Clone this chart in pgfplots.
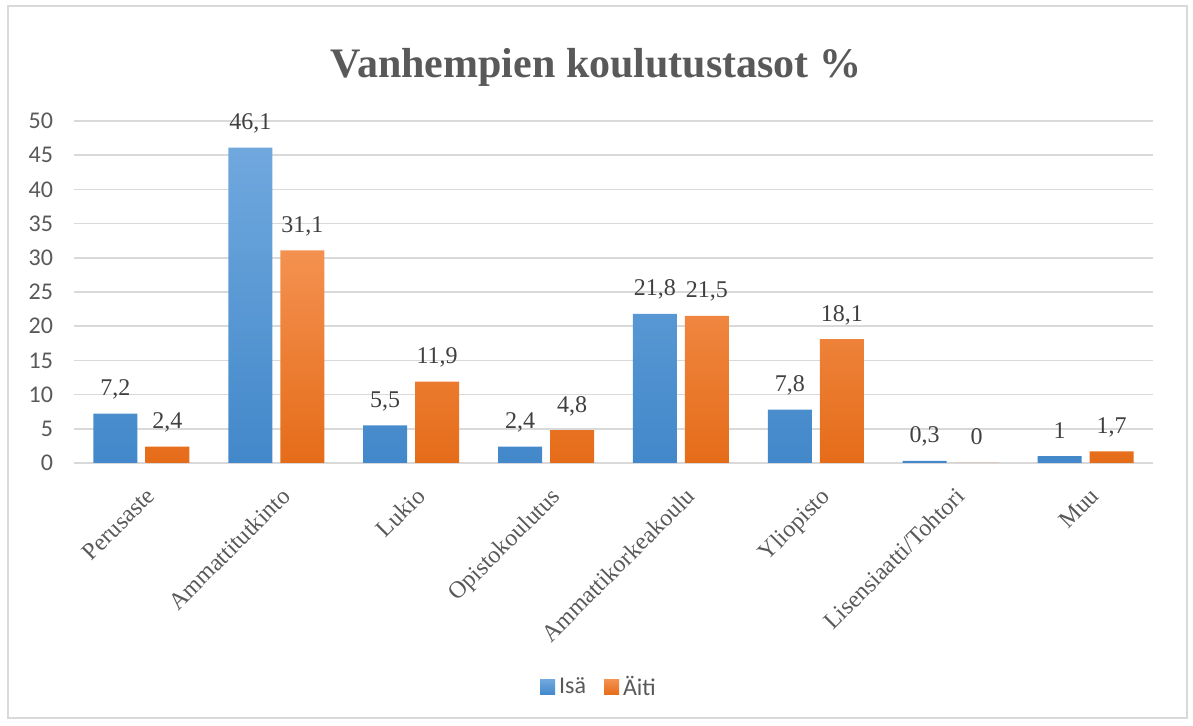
\documentclass[border=0pt]{standalone}
\usepackage{pgfplots}
\pgfplotsset{compat=1.18}
\usepackage{fontspec}
\setmainfont{Liberation Serif}
\newfontfamily\carlito{Carlito}
\definecolor{txtgray}{RGB}{89,89,89}
\definecolor{valgray}{RGB}{64,64,64}
\definecolor{gridgray}{RGB}{217,217,217}
\definecolor{bluetop}{RGB}{112,168,222}
\definecolor{bluebot}{RGB}{66,136,202}
\definecolor{orangetop}{RGB}{244,145,80}
\definecolor{orangebot}{RGB}{229,108,25}
\begin{document}
\begin{tikzpicture}
% canvas (1px = 0.5pt), origin at plot-area lower-left
\path (-37pt,-131.5pt) rectangle (559.5pt,231.5pt);
\draw[gridgray, line width=0.8pt] (-33pt,-127.5pt) rectangle (556.5pt,228.5pt);
\begin{axis}[
  at={(0,0)}, anchor=south west,
  scale only axis, width=539.5pt, height=171pt,
  xmin=-0.5, xmax=7.5, ymin=0, ymax=50,
  ybar=4pt, bar width=22pt,
  axis line style={draw=none},
  ymajorgrids, grid style={gridgray, line width=0.75pt},
  ytick={0,5,...,50},
  xtick={0,...,7},
  xticklabels={Perusaste,Ammattitutkinto,Lukio,Opistokoulutus,Ammattikorkeakoulu,Yliopisto,Lisensiaatti/Tohtori,Muu},
  major tick length=0pt,
  /pgf/number format/assume math mode=true,
  yticklabel style={font=\carlito\fontsize{12}{14}\selectfont, text=txtgray, xshift=-7pt},
  xticklabel style={font=\fontsize{12}{14}\selectfont, text=txtgray, rotate=45, anchor=north east, xshift=-3.5pt, yshift=-6pt},
  nodes near coords,
  point meta=explicit symbolic,
  every node near coord/.append style={font=\fontsize{12}{14}\selectfont, text=valgray, anchor=base, yshift=9pt},
  legend style={at={(263pt,-112pt)}, anchor=center, draw=none, legend columns=2,
    font=\carlito\fontsize{12}{14}\selectfont, text=txtgray,
    /tikz/every even column/.append style={column sep=7pt}},
  legend image code/.code={\path[#1, draw=none] (0pt,-3.75pt) rectangle (7.5pt,3.75pt);},
  clip=false,
]
\addplot[draw=none, top color=bluetop, bottom color=bluebot] coordinates {
  (0,7.2) [7,2]
  (1,46.1) [46,1]
  (2,5.5) [5,5]
  (3,2.4) [2,4]
  (4,21.8) [21,8]
  (5,7.8) [7,8]
  (6,0.3) [0,3]
  (7,1) [1]
};
\addplot[draw=none, top color=orangetop, bottom color=orangebot] coordinates {
  (0,2.4) [2,4]
  (1,31.1) [31,1]
  (2,11.9) [11,9]
  (3,4.8) [4,8]
  (4,21.5) [21,5]
  (5,18.1) [18,1]
  (6,0) [0]
  (7,1.7) [1,7]
};
\legend{Isä,Äiti}
\end{axis}
\node[anchor=base, text=txtgray, font=\bfseries\fontsize{21}{24}\selectfont] at (261pt,192.5pt) {Vanhempien koulutustasot \%};
\end{tikzpicture}
\end{document}
